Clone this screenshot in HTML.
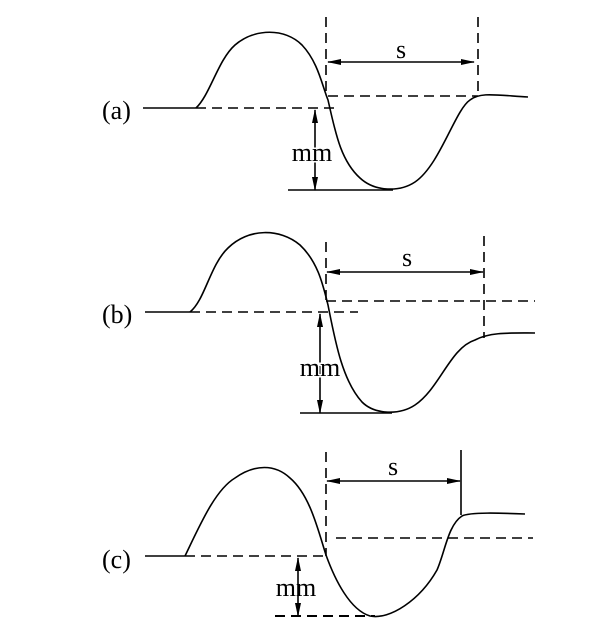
<!DOCTYPE html>
<html><head><style>html,body{margin:0;padding:0;background:#fff}svg{display:block}text{font-family:"Liberation Serif",serif;fill:#000}</style></head>
<body>
<svg width="604" height="641" viewBox="0 0 604 641" xmlns="http://www.w3.org/2000/svg">
<defs>
<marker id="ar" markerWidth="14" markerHeight="8" refX="13" refY="4" orient="auto-start-reverse" markerUnits="userSpaceOnUse"><path d="M0,1 L14,4 L0,7 Z" fill="#000"/></marker>
</defs>
<g fill="none" stroke="#000" stroke-width="1.6">
<!-- (a) -->
<line x1="143" y1="108" x2="196" y2="108"/>
<path d="M196,108 C210,95 218,60 235,45 C255,28 285,28 302,45 C318,62 322,85 328,100 C335,130 340,160 360,178 C375,192 400,192 415,182 C440,165 455,110 470,100 C480,92 495,95 528,97"/>
<line x1="288" y1="190" x2="393" y2="190"/>
<g stroke-dasharray="10,6">
<line x1="196" y1="108" x2="338" y2="108"/>
<line x1="328" y1="96" x2="478" y2="96"/>
<line x1="326" y1="17" x2="326" y2="96"/>
<line x1="478" y1="17" x2="478" y2="96"/>
</g>
<line x1="328" y1="62" x2="474" y2="62" marker-start="url(#ar)" marker-end="url(#ar)"/>
<line x1="315" y1="110" x2="315" y2="190" marker-start="url(#ar)" marker-end="url(#ar)"/>
<!-- (b) -->
<line x1="145" y1="312" x2="190" y2="312"/>
<path d="M190,312 C205,300 210,265 228,248 C248,228 280,228 300,245 C318,262 323,285 328,305 C335,340 342,380 362,402 C375,415 400,415 415,405 C440,388 450,348 475,340 C490,332 510,333 535,333"/>
<line x1="300" y1="413" x2="392" y2="413"/>
<g stroke-dasharray="10,6">
<line x1="190" y1="312" x2="358" y2="312"/>
<line x1="326" y1="301" x2="535" y2="301"/>
<line x1="326" y1="242" x2="326" y2="301"/>
<line x1="484" y1="236" x2="484" y2="338"/>
</g>
<line x1="327" y1="272" x2="483" y2="272" marker-start="url(#ar)" marker-end="url(#ar)"/>
<line x1="320" y1="314" x2="320" y2="413" marker-start="url(#ar)" marker-end="url(#ar)"/>
<!-- (c) -->
<line x1="145" y1="556" x2="185" y2="556"/>
<path d="M185,556 C200,525 215,490 235,478 C255,464 275,464 290,478 C310,495 318,530 326,555 C335,580 350,610 370,616 C390,620 420,600 437,570 C445,552 448,525 462,516 C470,512 500,513 525,514"/>
<line x1="461" y1="450" x2="461" y2="515"/>
<g stroke-dasharray="10,6">
<line x1="185" y1="556" x2="326" y2="556"/>
<line x1="336" y1="538" x2="533" y2="538"/>
<line x1="326" y1="452" x2="326" y2="556"/>
<line x1="275" y1="616" x2="375" y2="616" stroke-width="2"/>
</g>
<line x1="327" y1="481" x2="460" y2="481" marker-start="url(#ar)" marker-end="url(#ar)"/>
<line x1="298" y1="558" x2="298" y2="616" marker-start="url(#ar)" marker-end="url(#ar)"/>
</g>
<g font-size="26">
<text x="102" y="119">(a)</text>
<text x="102" y="323">(b)</text>
<text x="102" y="568">(c)</text>
<text x="401" y="58" text-anchor="middle">s</text>
<text x="407" y="266" text-anchor="middle">s</text>
<text x="393" y="475" text-anchor="middle">s</text>
<text x="312" y="161" text-anchor="middle" style="paint-order:stroke" stroke="#fff" stroke-width="3">mm</text>
<text x="320" y="376" text-anchor="middle" style="paint-order:stroke" stroke="#fff" stroke-width="3">mm</text>
<text x="296" y="596" text-anchor="middle">mm</text>
</g>
</svg>
</body></html>
